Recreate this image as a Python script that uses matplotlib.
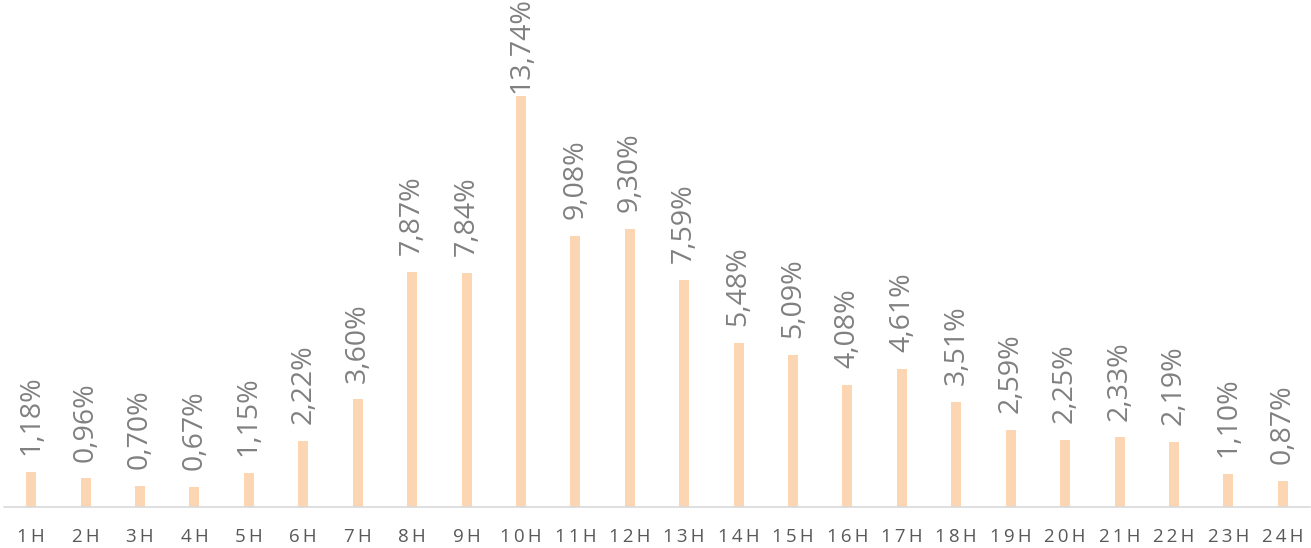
import matplotlib
matplotlib.use("Agg")
import matplotlib.pyplot as plt

hours = [f"{h}H" for h in range(1, 25)]
shares = [1.18, 0.96, 0.70, 0.67, 1.15, 2.22, 3.60, 7.87, 7.84, 13.74, 9.08, 9.30,
          7.59, 5.48, 5.09, 4.08, 4.61, 3.51, 2.59, 2.25, 2.33, 2.19, 1.10, 0.87]

plt.rcParams['font.family'] = ['Open Sans', 'DejaVu Sans']

fig = plt.figure(figsize=(13.11, 5.48), dpi=100)
ax = fig.add_axes([4 / 1311, 1 - 507 / 548, 1306 / 1311, 507 / 548])

x = range(len(hours))
bars = ax.bar(x, shares, width=0.185, color="#FCD5B2", zorder=2)

ax.set_xlim(-0.5, len(hours) - 0.5)
ax.set_ylim(0, 507 / 29.9)
ax.set_xticks(list(x))
# spaced-out letters as in the original
ax.set_xticklabels(["\u2009".join(h) for h in hours], fontsize=13.5, color="#595959")
ax.tick_params(axis="x", length=0, pad=15)
ax.set_yticks([])
for s in ["top", "right", "left"]:
    ax.spines[s].set_visible(False)
ax.spines["bottom"].set_color("#d9d9d9")
ax.spines["bottom"].set_linewidth(1.2)

labels = []
for b, v in zip(bars, shares):
    t = ax.annotate(f"{v:.2f}%".replace(".", ","),
                    (b.get_x() + b.get_width() / 2, v),
                    xytext=(0, 12), textcoords="offset points",
                    rotation=90, ha="center", va="bottom",
                    fontsize=20.5, color="#808080")
    labels.append(t)

# keep labels inside the figure, like excel does
fig.canvas.draw()
r = fig.canvas.get_renderer()
for t in labels:
    bb = t.get_window_extent(r)
    top = fig.bbox.height - 4
    if bb.y1 > top:
        off = t.xyann[1] - (bb.y1 - top) * 72 / fig.dpi
        t.xyann = (0, max(off, 2))

fig.savefig("out.png", dpi=100)
